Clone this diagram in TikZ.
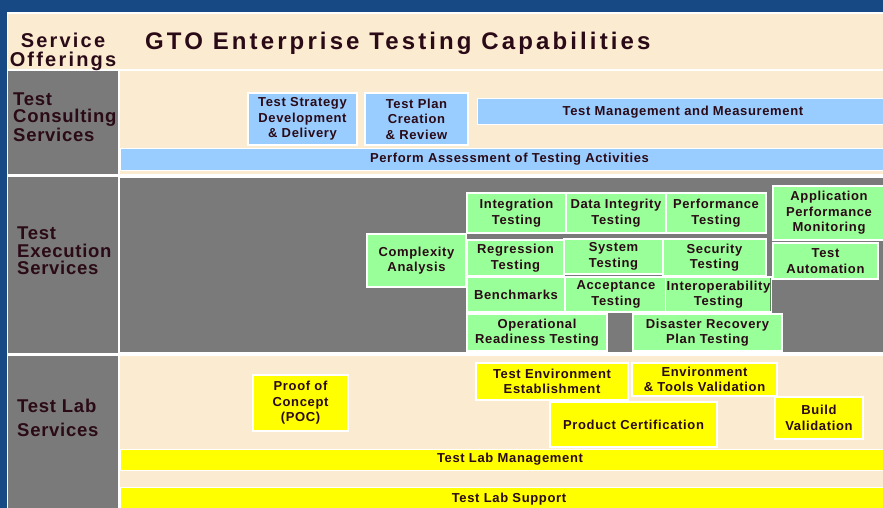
\documentclass[tikz,border=0pt]{standalone}
\usepackage{fontspec}
\setmainfont{Liberation Sans}
\newfontfamily\capfont[LetterSpace=5]{Liberation Sans}
\newfontfamily\headfont[LetterSpace=11]{Liberation Sans}
\newfontfamily\titlefont[LetterSpace=13]{Liberation Sans}
\newfontfamily\sidefont[LetterSpace=4]{Liberation Sans}
\usetikzlibrary{positioning}

\definecolor{frameblue}{HTML}{174A84}
\definecolor{cream}{HTML}{FBEBD0}
\definecolor{cellgray}{HTML}{7A7A7A}
\definecolor{inkred}{HTML}{2A0A16}
\definecolor{capblue}{HTML}{99CCFF}
\definecolor{capgreen}{HTML}{99FF99}
\definecolor{capyellow}{HTML}{FFFF00}

\begin{document}
\begin{tikzpicture}[x=1pt, y=-1pt,
    capbox/.style={draw=white, line width=1.2pt, inner sep=1pt, align=center,
      text=inkred, font=\capfont\bfseries\fontsize{13}{15.5}\selectfont,
      path picture={\draw[#1, line width=3pt]
        (path picture bounding box.north east) -- (path picture bounding box.south east)
        -- (path picture bounding box.south west);}},
    bluebox/.style={capbox=capblue!55!black, fill=capblue},
    greenbox/.style={capbox=capgreen!55!black, fill=capgreen},
    yellowbox/.style={capbox=capyellow!60!black, fill=capyellow},
    bar/.style={draw=white, line width=1pt, inner sep=0pt, text=inkred,
      font=\capfont\bfseries\fontsize{13}{15.5}\selectfont},
    side/.style={anchor=north west, align=left, inner sep=0pt, text=inkred},
    sidetext/.style={font=\sidefont\bfseries\fontsize{18.5}{#1}\selectfont}]

    \useasboundingbox (0,0) rectangle (883,508);

    % frame and cells
    \fill[frameblue] (0,0) rectangle (883,508);
    \fill[white] (7,12) rectangle (883,508);
    \fill[cream] (8,14) rectangle (883,69);
    \fill[cellgray] (8,71) rectangle (118,174);
    \fill[cream] (120,71) rectangle (883,174);
    \fill[cellgray] (8,177) rectangle (118,353);
    \fill[cellgray] (120,178) rectangle (883,352);
    \fill[cellgray] (8,356) rectangle (118,508);
    \fill[cream] (120,356) rectangle (883,508);

    \node[anchor=north, align=center, inner sep=0pt, text=inkred,
      font=\headfont\bfseries\fontsize{20}{19}\selectfont]
      (offer) at (63,33) {Service\\Offerings};
    \node[anchor=base west, inner sep=0pt, text=inkred,
      font=\titlefont\bfseries\fontsize{24}{28}\selectfont]
      (title) at (145,50) {GTO Enterprise Testing Capabilities};

    \node[side, sidetext=17] (consult) at (13,93) {Test\\Consulting\\Services};
    \node[side, sidetext=17.5] (exec) at (17,227) {Test\\Execution\\Services};
    \node[side, sidetext=24] (lab) at (17,399) {Test Lab\\Services};

    % consulting
    \node[bluebox, minimum width=109, minimum height=52] (strat) at (302.5,119)
      {Test Strategy\\Development\\\& Delivery};
    \node[bluebox, minimum width=103, minimum height=52] (plan) at (416.5,119)
      {Test Plan\\Creation\\\& Review};
    \node[bar, fill=capblue, minimum width=412, minimum height=26] (mgmt) at (683,112)
      {Test Management and Measurement};
    \node[bar, fill=capblue, minimum width=779, minimum height=22] (assess) at (509.5,159)
      {Perform Assessment of Testing Activities};

    % execution
    \node[greenbox, minimum width=99, minimum height=53] (cmplx) at (416.5,260.5)
      {Complexity\\Analysis};
    \node[greenbox, minimum width=99, minimum height=40] (integ) at (516.5,213)
      {Integration\\Testing};
    \node[greenbox, minimum width=100, minimum height=40] (dataint) at (616,213)
      {Data Integrity\\Testing};
    \node[greenbox, minimum width=100, minimum height=40] (perf) at (716,213)
      {Performance\\Testing};
    \node[greenbox, minimum width=112, minimum height=54] (apm) at (829,213)
      {Application\\Performance\\Monitoring};
    \node[greenbox, minimum width=97, minimum height=36] (regr) at (515.5,258)
      {Regression\\Testing};
    \node[greenbox, minimum width=99, minimum height=35] (sys) at (613.5,256.5)
      {System\\Testing};
    \node[greenbox, minimum width=103, minimum height=37] (secur) at (714.5,257.5)
      {Security\\Testing};
    \node[greenbox, minimum width=105, minimum height=36] (autom) at (825.5,261)
      {Test\\Automation};
    \node[greenbox, minimum width=98, minimum height=35] (bench) at (516,294.5)
      {Benchmarks};
    \node[greenbox, minimum width=102, minimum height=35] (accept) at (616,294.5)
      {Acceptance\\Testing};
    \node[greenbox, minimum width=103, minimum height=35] (interop) at (718.5,294.5)
      {Interoperability\\Testing};
    \node[greenbox, minimum width=140, minimum height=37] (opread) at (537,332.5)
      {Operational\\Readiness Testing};
    \node[greenbox, minimum width=149, minimum height=37] (disaster) at (707.5,332.5)
      {Disaster Recovery\\Plan Testing};

    % lab
    \node[yellowbox, minimum width=95, minimum height=56] (poc) at (300.5,403)
      {Proof of\\Concept\\(POC)};
    \node[yellowbox, minimum width=152, minimum height=37] (envest) at (552,381.5)
      {Test Environment\\Establishment};
    \node[yellowbox, minimum width=145, minimum height=33] (envtools) at (704.5,379.5)
      {Environment\\\& Tools Validation};
    \node[yellowbox, minimum width=167, minimum height=45] (prodcert) at (633.5,424.5)
      {Product Certification};
    \node[yellowbox, minimum width=88, minimum height=42] (build) at (819,418)
      {Build\\Validation};
    \node[bar, fill=capyellow, minimum width=780, minimum height=21] (labmgmt) at (510,459.5)
      {Test Lab Management};
    \node[bar, fill=capyellow, minimum width=778, minimum height=25] (labsup) at (509,499.5)
      {Test Lab Support};
\end{tikzpicture}
\end{document}
